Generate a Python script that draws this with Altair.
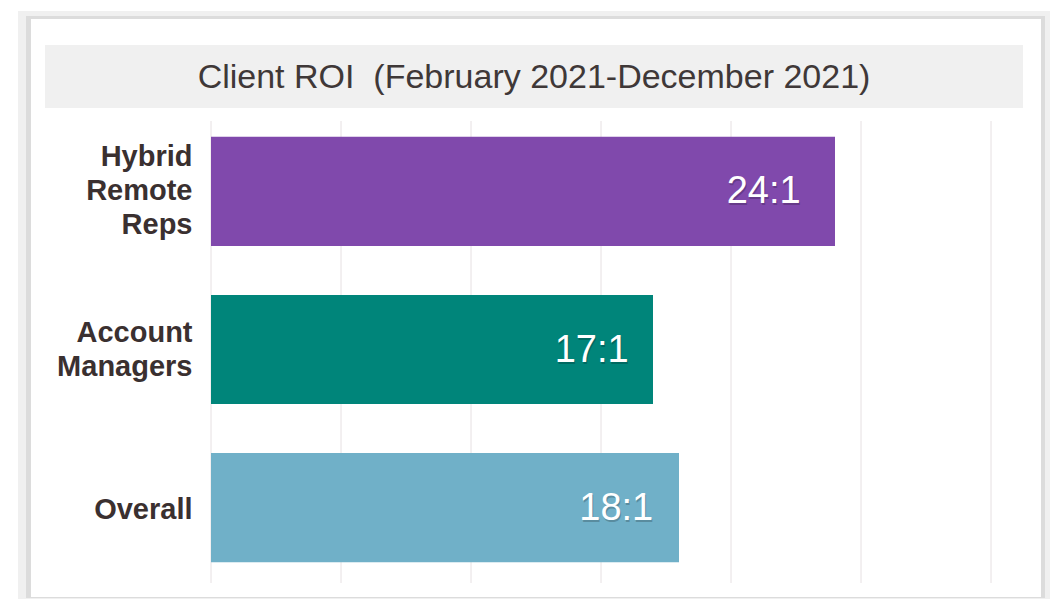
import altair as alt
import pandas as pd

categories = ["Hybrid Remote Reps", "Account Managers", "Overall"]
roi_values = [24, 17, 18]
roi_labels = ["24:1", "17:1", "18:1"]
bar_colors = ["#8049AC", "#00857A", "#70B0C8"]
grid_ticks = [0, 5, 10, 15, 20, 25, 30]
title_text = "Client ROI\u00a0\u00a0(February 2021-December 2021)"

df = pd.DataFrame({"cat": categories, "roi": roi_values, "label": roi_labels})
grid_df = pd.DataFrame({"g": grid_ticks})
one = pd.DataFrame({"a": [0]})

W, H = 780, 457
xscale = alt.Scale(domain=[0, 30], nice=False, zero=True)
yscale = alt.Scale(domain=categories, paddingInner=0.31, paddingOuter=0.1)

frame_outer = alt.Chart(one).mark_rect(color="#f0f0f0").encode(
    x=alt.value(-193), x2=alt.value(839), y=alt.value(-110), y2=alt.value(478))
frame_mid = alt.Chart(one).mark_rect(color="#dcdcdc").encode(
    x=alt.value(-185), x2=alt.value(834), y=alt.value(-105), y2=alt.value(477))
frame_inner = alt.Chart(one).mark_rect(color="#ffffff").encode(
    x=alt.value(-180), x2=alt.value(830), y=alt.value(-102), y2=alt.value(476))
title_band = alt.Chart(one).mark_rect(color="#f0f0f0").encode(
    x=alt.value(-166), x2=alt.value(812), y=alt.value(-76), y2=alt.value(-13))
title = alt.Chart(one).mark_text(
    text=title_text, font="Liberation Sans", fontSize=34, color="#3f3838",
    align="center", baseline="middle").encode(x=alt.value(323), y=alt.value(-43))

grid = alt.Chart(grid_df).mark_rule(color="#e6e0e2", strokeWidth=1).encode(
    x=alt.X("g:Q", scale=xscale, axis=None),
    y=alt.value(0), y2=alt.value(462))

label_offset = {
    "condition": [
        {"test": "datum.value == 'Hybrid Remote Reps'", "value": -34},
        {"test": "datum.value == 'Account Managers'", "value": -17},
    ],
    "value": 2,
}

bars = alt.Chart(df).mark_bar().encode(
    x=alt.X("roi:Q", scale=xscale, axis=None),
    y=alt.Y("cat:N", scale=yscale, sort=categories, title=None,
            axis=alt.Axis(domain=False, ticks=False, tickSize=0, grid=False, zindex=2,
                          labelPadding=19, labelFontSize=29, labelFont="Liberation Sans",
                          labelFontWeight="bold", labelColor="#3a3030",
                          labelLineHeight=34, labelLimit=300, labelOffset=label_offset,
                          labelExpr="split(datum.label, ' ')")),
    color=alt.Color("cat:N", scale=alt.Scale(domain=categories, range=bar_colors), legend=None),
)

text_base = alt.Chart(df).transform_calculate(pos="datum.roi * 0.945")

shadow = text_base.mark_text(
    align="right", baseline="middle", dx=1, dy=3, fontSize=38,
    font="Liberation Sans", color="#000000", opacity=0.2).encode(
    x=alt.X("pos:Q", scale=xscale), y=alt.Y("cat:N", scale=yscale, sort=categories),
    text="label:N")
values = text_base.mark_text(
    align="right", baseline="middle", dx=0, dy=1, fontSize=38,
    font="Liberation Sans", color="#ffffff").encode(
    x=alt.X("pos:Q", scale=xscale), y=alt.Y("cat:N", scale=yscale, sort=categories),
    text="label:N")

chart = alt.layer(frame_outer, frame_mid, frame_inner, title_band, title, grid, bars, shadow, values).properties(
    width=W, height=H,
    autosize=alt.AutoSizeParams(type="none"),
    padding={"left": 211, "top": 121, "right": 59, "bottom": 21},
    background="#ffffff",
).configure_view(stroke=None)

chart.save("out.html", embed_options={"renderer": "svg", "actions": False})
